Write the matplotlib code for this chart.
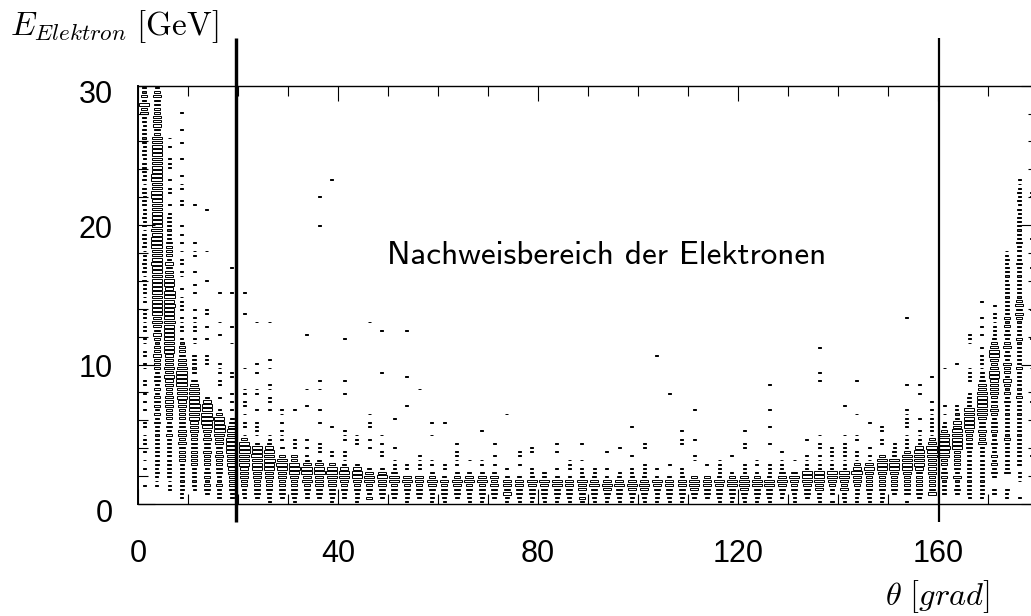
#!/usr/bin/env python3
import matplotlib
matplotlib.use("Agg")
import matplotlib.pyplot as plt
from matplotlib.patches import Rectangle
from matplotlib.transforms import ScaledTranslation

# 2.5 degree columns, 0.3 GeV rows, box size (1 = dot, 9 = largest)
BIN_THETA = 2.5
BIN_ENERGY = 0.3
# part of the bin a box of each size fills
BOX_FRACTION = [0.0, 0.22, 0.34, 0.5, 0.66, 0.78, 0.83, 0.87, 0.91, 0.95]

# one string per column, first character is the lowest row
COLUMNS = [
    "0000100010" "1010111011" "0010101011" "0011011011" "0111111011"
    "1112121211" "1212212121" "1221221212" "2212212222" "1224352322",
    "0000111212" "2222222223" "2323332323" "3233343323" "4345465665"
    "6665666865" "5777676655" "5557755776" "6666655633" "4443333432",
    "0001112222" "2222223232" "3334443344" "5454445656" "6557656767"
    "7465443423" "3332222221",
    "0112222222" "3333434433" "3334455678" "8754433321" "0111101111",
    "0001222223" "3333333444" "5687555543" "0222220011" "0111101",
    "0023323323" "3343343458" "9765420000",
    "0222322333" "3433445786" "5310",
    "0223333445" "5677876543" "2",
    "0122334445" "567853",
    "0233334456" "57652",
    "1223334456" "86542",
    "0233334467" "5302",
    "123333457533",
    "02233547742",
    "02334448642",
    "1233445753",
    "0223345642",
    "1223346542",
    "032335542",
    "023344642",
    "023335531",
    "1223354011",
    "0233344011",
    "12234532",
    "1233342",
    "02334532",
    "12233542",
    "12333542",
    "02334342",
    "1243442",
    "1233442",
    "1233452",
    "12334522",
    "1233552",
    "1233441",
    "2334452",
    "1233542",
    "1234541",
    "1233542",
    "1234542",
    "1234542",
    "1223451",
    "1233442",
    "1233442",
    "0234553",
    "0233443",
    "1233452",
    "1233553",
    "1234554",
    "1233553",
    "1233562",
    "01234543",
    "11233453",
    "02334565",
    "12244565",
    "20223455",
    "12243455",
    "1122344743",
    "1223333464",
    "122333346653",
    "0023333466522",
    "1033333456663",
    "02333333456654",
    "0043333444455743",
    "00222233233557665321",
    "002322423333355665442211",
    "0122222222222" "33334" "66666" "2221",
    "01222222222222" "433433455665544322" "1111",
    "002200" "2323232232233323" "43334444554345543" "21111110" "1",
    "0112000" "322222223222" "2222232323423" "3423243232323" "2222222212221211",
    "0100011102" "2222222222" "2222232222" "2232222223" "2222343432"
    "2222222322" "2232222221" "21212111",
    "0",
]

# single dots above the continuous part of each column, as row numbers
STRAY_ROWS = [
    [], [], [71, 74, 75, 77, 80, 81, 82, 85, 87],
    [51, 54, 55, 57, 58, 60, 62, 64, 66, 71, 72, 75, 76, 78, 82, 86, 89, 93],
    [50, 52, 55, 59, 60, 62, 71],
    [33, 34, 35, 39, 42, 45, 46, 53, 60, 70],
    [25, 28, 29, 31, 32, 33, 40, 43, 50],
    [22, 24, 26, 30, 31, 38, 42, 50, 56],
    [16, 18, 19, 21, 23, 24, 26, 27, 32, 45, 50],
    [16, 17, 18, 19, 22, 26, 27, 31, 33, 43],
    [15, 16, 22, 24, 25, 27, 28, 32, 34, 43],
    [15, 16, 17, 19, 21, 22],
    [13, 14, 15, 22],
    [11, 13, 15, 23, 27, 40],
    [12, 13, 14, 19, 22, 27, 29, 66, 73],
    [11, 12, 18, 77],
    [10, 11, 12, 15, 16, 17, 26, 29, 39],
    [14, 15, 16],
    [13, 15, 18, 19, 21, 43],
    [11, 12, 14, 16, 31, 41],
    [9, 10, 13, 20],
    [23, 30, 41],
    [10, 11, 27],
    [9, 10, 16, 19],
    [8, 9, 19],
    [9, 10, 11, 12, 14],
    [10],
    [9, 10, 17],
    [9, 11, 14],
    [8, 21],
    [9, 11, 12],
    [7, 8, 12, 13],
    [],
    [8, 12, 14],
    [8, 9, 10],
    [7, 8, 10, 14],
    [7, 8],
    [8, 12],
    [7, 13],
    [7, 8, 11, 18],
    [7, 8, 9, 13, 14],
    [8, 35],
    [9, 26],
    [7, 8, 14, 15, 17],
    [10, 11, 15, 22],
    [9],
    [7, 8, 9, 10],
    [7, 11],
    [7, 8, 9, 13, 14, 17],
    [7, 9, 10],
    [7, 8, 9, 14, 18, 22, 28],
    [8, 9, 10, 12],
    [10],
    [8, 9, 10, 11, 15],
    [8, 9, 10, 11, 13, 14, 16, 29, 31, 37],
    [8, 9, 10, 11, 12, 13],
    [8, 9, 10, 11, 12, 13, 14, 16, 23],
    [10, 11, 12, 15, 16, 21, 29],
    [10, 11, 13, 19],
    [14, 15, 17, 18],
    [13, 14],
    [13, 14, 15, 16, 18, 19, 20, 21, 22, 28, 44],
    [14, 15, 16, 17, 20, 26, 28],
    [16, 17, 18, 19, 20, 21, 22, 24, 30],
    [21, 23, 32],
    [33],
    [29, 30, 31, 32, 38, 39, 40],
    [37, 40, 42, 44, 48],
    [],
    [],
    [],
    [11, 24, 32, 39, 46, 56, 63, 73, 74],
]

X_LABELS = ["0", "40", "80", "120", "160"]
X_MAJOR = [0, 40, 80, 120, 160]
X_MINOR = [10, 20, 30, 50, 60, 70, 90, 100, 110, 130, 140, 150, 170]
Y_LABELS = ["0", "10", "20", "30"]
Y_MAJOR = [0, 10, 20, 30]
Y_MINOR = [2, 4, 6, 8, 12, 14, 16, 18, 22, 24, 26, 28]
DETECTOR_LIMITS = [19.5, 160.2]
LIMIT_WIDTHS = [3.4, 2.2]


def draw_box(ax, column, row, size):
    frac = BOX_FRACTION[size]
    w = BIN_THETA * frac
    h = BIN_ENERGY * max(frac * 0.8, 0.2)
    x0 = (column + 0.5) * BIN_THETA - w / 2
    y0 = (row + 0.5) * BIN_ENERGY - h / 2
    # the smallest boxes close up to solid dots
    face = "black" if size == 1 else ("#555555" if size == 2 else "white")
    ax.add_patch(Rectangle((x0, y0), w, h, facecolor=face, edgecolor="black", linewidth=0.7))


plt.rcParams["mathtext.fontset"] = "cm"
fig = plt.figure(figsize=(10.31, 6.16), dpi=100)
# axis runs to 180 degrees, just past the right side of the page
ax = fig.add_axes([138 / 1031, 112 / 616, 900 / 1031, 418.3 / 616])
ax.set_xlim(0, 180)
ax.set_ylim(0, 30)

for column, sizes in enumerate(COLUMNS):
    for row, ch in enumerate(sizes):
        if ch != "0":
            draw_box(ax, column, row, int(ch))
    for row in STRAY_ROWS[column]:
        draw_box(ax, column, row, 1)

for theta, width in zip(DETECTOR_LIMITS, LIMIT_WIDTHS):
    ax.vlines(theta, -1.3, 33.4, color="black", linewidth=width * 0.72, clip_on=False, zorder=5)

ax.set_xticks(X_MAJOR)
ax.set_xticks(X_MINOR, minor=True)
ax.set_xticklabels(X_LABELS, fontfamily="Liberation Sans", fontsize=22)
ax.set_yticks(Y_MAJOR)
ax.set_yticks(Y_MINOR, minor=True)
ax.set_yticklabels(Y_LABELS, fontfamily="Liberation Sans", fontsize=22)
ax.tick_params(axis="x", which="major", direction="in", top=True, length=11, width=0.8, pad=25.5)
ax.tick_params(axis="x", which="minor", direction="in", top=True, length=7, width=0.8)
ax.tick_params(axis="y", which="major", direction="in", right=True, length=12, width=0.8, pad=18)
ax.tick_params(axis="y", which="minor", direction="in", right=True, length=7, width=0.8)

# the scanned labels do not sit exactly on their ticks
for label, dy in zip(ax.get_yticklabels(), [-6, -1, -1, -6]):
    label.set_transform(label.get_transform() + ScaledTranslation(0, dy / 100, fig.dpi_scale_trans))

for side in ["top", "bottom", "left"]:
    ax.spines[side].set_linewidth(1.0)
ax.spines["left"].set_linewidth(1.4)

ax.text(10 / 1031, 1 - 27 / 616, r"$E_{Elektron}\ [\mathrm{GeV}]$", transform=fig.transFigure,
        fontsize=23.8, ha="left", va="center")
ax.text(990 / 1031, 1 - 597 / 616, r"$\theta\ [grad]$", transform=fig.transFigure,
        fontsize=23.3, ha="right", va="center")
ax.text(607 / 1031, 1 - 256 / 616, "Nachweisbereich der Elektronen", transform=fig.transFigure,
        family="cmss10", fontsize=23.9, ha="center", va="center")

fig.savefig("out.png", dpi=100)
plt.close(fig)
